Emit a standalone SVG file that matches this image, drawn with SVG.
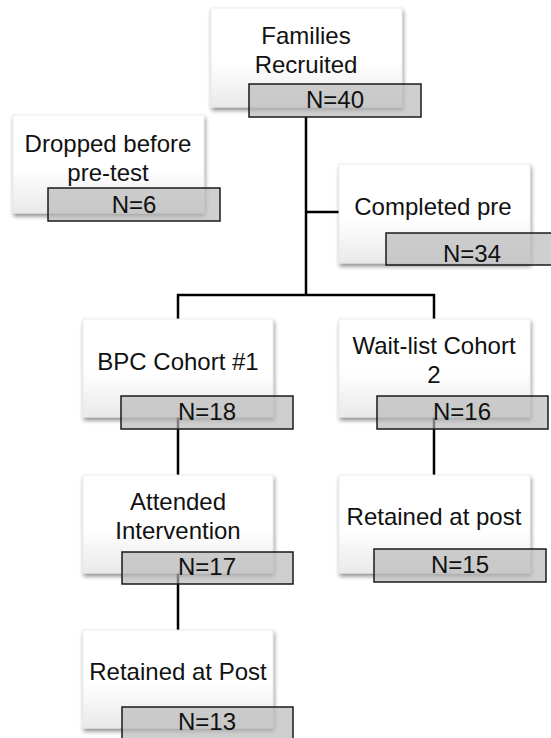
<svg xmlns="http://www.w3.org/2000/svg" width="551" height="738" viewBox="0 0 551 738">
<defs>
<linearGradient id="boxg" x1="0" y1="0" x2="0" y2="1">
<stop offset="0" stop-color="#ffffff"/>
<stop offset="0.55" stop-color="#ffffff"/>
<stop offset="1" stop-color="#e9e9e9"/>
</linearGradient>
<filter id="sh" x="-10%" y="-10%" width="125%" height="130%">
<feDropShadow dx="1" dy="3" stdDeviation="2.2" flood-color="#000" flood-opacity="0.45"/>
</filter>
</defs>
<style>
.box{fill:url(#boxg);stroke:#e6e6e6;stroke-width:0.8;filter:url(#sh)}
.n{fill:#b8b8b8;fill-opacity:0.68;stroke:#1a1a1a;stroke-width:1.5}
.t{font-family:"Liberation Sans",Arial,sans-serif;font-size:24px;fill:#111;text-anchor:middle}
.c{stroke:#000;stroke-width:2.5;fill:none}
</style>
<rect width="551" height="738" fill="#fff"/>
<g id="connectors">
<line class="c" x1="306" y1="117" x2="306" y2="296"/>
<line class="c" x1="306" y1="212" x2="339" y2="212"/>
<line class="c" x1="177" y1="295" x2="435" y2="295"/>
<line class="c" x1="178" y1="294" x2="178" y2="319"/>
<line class="c" x1="434" y1="294" x2="434" y2="319"/>
<line class="c" x1="178" y1="396" x2="178" y2="475"/>
<line class="c" x1="434" y1="396" x2="434" y2="475"/>
<line class="c" x1="178" y1="552" x2="178" y2="630"/>
</g>
<g id="families">
<rect class="box" x="211" y="8" width="191" height="99"/>
<text class="t" x="306" y="44">Families</text>
<text class="t" x="306" y="73">Recruited</text>
<rect class="n" x="249" y="84" width="172" height="33"/>
<text class="t" x="335" y="108">N=40</text>
</g>
<g id="dropped">
<rect class="box" x="13" y="115" width="191" height="98"/>
<text class="t" x="108" y="152">Dropped before</text>
<text class="t" x="108" y="181">pre-test</text>
<rect class="n" x="48" y="188" width="172" height="33"/>
<text class="t" x="134" y="213">N=6</text>
</g>
<g id="completed">
<rect class="box" x="339" y="164" width="191" height="99"/>
<text class="t" x="433" y="215">Completed pre</text>
<rect class="n" x="386" y="233" width="172" height="32"/>
<text class="t" x="472" y="262">N=34</text>
</g>
<g id="bpc">
<rect class="box" x="83" y="319" width="190" height="98"/>
<text class="t" x="178" y="370">BPC Cohort #1</text>
<rect class="n" x="121" y="396" width="172" height="33"/>
<text class="t" x="207" y="420">N=18</text>
</g>
<g id="waitlist">
<rect class="box" x="339" y="319" width="191" height="98"/>
<text class="t" x="434" y="354">Wait-list Cohort</text>
<text class="t" x="434" y="383">2</text>
<rect class="n" x="377" y="396" width="171" height="33"/>
<text class="t" x="462" y="420">N=16</text>
</g>
<g id="attended">
<rect class="box" x="83" y="475" width="190" height="98"/>
<text class="t" x="178" y="510">Attended</text>
<text class="t" x="178" y="539">Intervention</text>
<rect class="n" x="122" y="552" width="171" height="32"/>
<text class="t" x="207" y="575">N=17</text>
</g>
<g id="retained-wait">
<rect class="box" x="339" y="475" width="191" height="98"/>
<text class="t" x="434" y="525">Retained at post</text>
<rect class="n" x="374" y="549" width="172" height="33"/>
<text class="t" x="460" y="573">N=15</text>
</g>
<g id="retained-bpc">
<rect class="box" x="83" y="630" width="190" height="98"/>
<text class="t" x="178" y="680">Retained at Post</text>
<rect class="n" x="122" y="707" width="171" height="33"/>
<text class="t" x="207" y="730">N=13</text>
</g>
</svg>
